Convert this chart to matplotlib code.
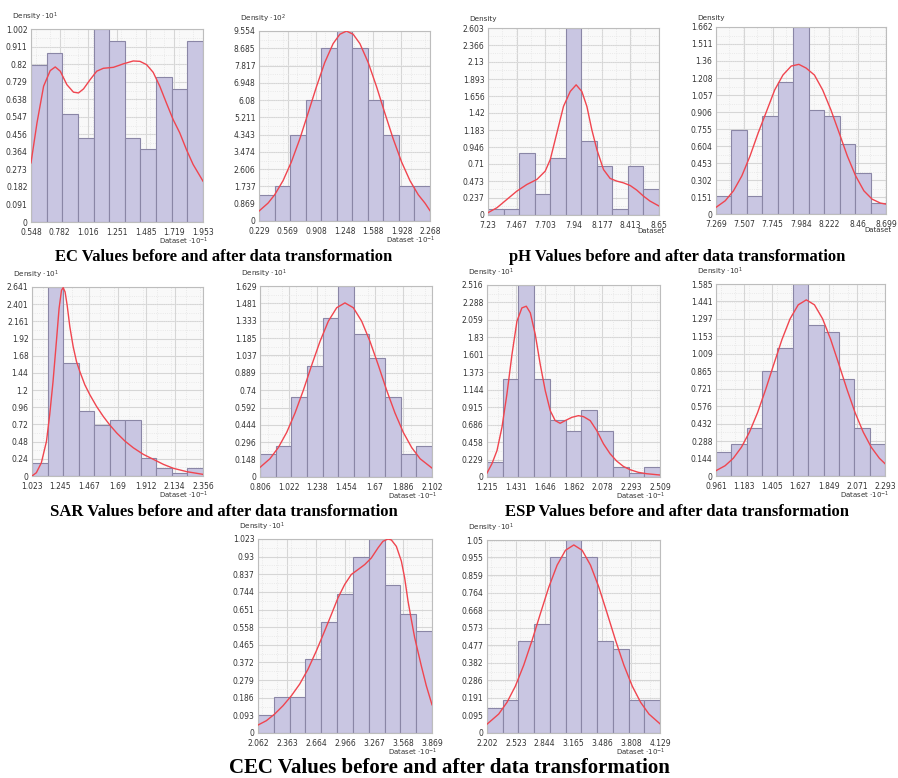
import numpy as np
import matplotlib
matplotlib.use("Agg")
import matplotlib.pyplot as plt
from matplotlib.ticker import MultipleLocator

# ---- data (11 bins per histogram) ----

# EC before
ec_before_xticks = ["0.548", "0.782", "1.016", "1.251", "1.485", "1.719", "1.953"]
ec_before_yticks = ["0", "0.091", "0.182", "0.273", "0.364", "0.456", "0.547", "0.638", "0.729", "0.82", "0.911", "1.002"]
ec_before_bars = [0.814, 0.878, 0.561, 0.437, 1.002, 0.940, 0.437, 0.377, 0.751, 0.689, 0.940]
ec_before_cx = [0.548, 0.597, 0.651, 0.705, 0.746, 0.787, 0.841, 0.895, 0.936, 0.977, 1.031, 1.085, 1.139,
                1.221, 1.302, 1.383, 1.438, 1.492, 1.546, 1.600, 1.654, 1.709, 1.763, 1.817, 1.872, 1.953]
ec_before_cy = [0.307, 0.515, 0.705, 0.786, 0.805, 0.783, 0.713, 0.674, 0.670, 0.691, 0.739, 0.783, 0.798,
                0.803, 0.821, 0.836, 0.834, 0.817, 0.777, 0.705, 0.618, 0.532, 0.463, 0.377, 0.299, 0.212]

# EC after
ec_after_xticks = ["0.229", "0.569", "0.908", "1.248", "1.588", "1.928", "2.268"]
ec_after_yticks = ["0", "0.869", "1.737", "2.606", "3.474", "4.343", "5.211", "6.08", "6.948", "7.817", "8.685", "9.554"]
ec_after_bars = [1.303, 1.737, 4.343, 6.08, 8.685, 9.554, 8.685, 6.08, 4.343, 1.737, 1.737]
ec_after_cx = [0.229, 0.337, 0.416, 0.516, 0.615, 0.715, 0.814, 0.914, 1.013, 1.113, 1.193, 1.272,
               1.352, 1.432, 1.531, 1.631, 1.730, 1.830, 1.929, 2.029, 2.128, 2.208, 2.268]
ec_after_cy = [0.50, 0.90, 1.32, 2.03, 2.97, 4.12, 5.42, 6.75, 7.97, 8.92, 9.39, 9.55,
               9.39, 8.92, 7.97, 6.75, 5.42, 4.12, 2.97, 2.03, 1.32, 0.90, 0.52]

# pH before
ph_before_xticks = ["7.23", "7.467", "7.703", "7.94", "8.177", "8.413", "8.65"]
ph_before_yticks = ["0", "0.237", "0.473", "0.71", "0.946", "1.183", "1.42", "1.656", "1.893", "2.13", "2.366", "2.603"]
ph_before_bars = [0.079, 0.079, 0.868, 0.29, 0.80, 2.603, 1.037, 0.68, 0.079, 0.68, 0.36]
ph_before_cx = [7.230, 7.305, 7.387, 7.470, 7.553, 7.636, 7.705, 7.747, 7.802, 7.857, 7.913, 7.962, 8.009,
                8.051, 8.092, 8.134, 8.189, 8.244, 8.299, 8.354, 8.410, 8.465, 8.520, 8.575, 8.650]
ph_before_cy = [0.032, 0.102, 0.217, 0.333, 0.425, 0.495, 0.610, 0.772, 1.142, 1.512, 1.720, 1.812, 1.720,
                1.512, 1.188, 0.911, 0.633, 0.509, 0.472, 0.448, 0.411, 0.347, 0.264, 0.194, 0.125]

# pH after
ph_after_xticks = ["7.269", "7.507", "7.745", "7.984", "8.222", "8.46", "8.699"]
ph_after_yticks = ["0", "0.151", "0.302", "0.453", "0.604", "0.755", "0.906", "1.057", "1.208", "1.36", "1.511", "1.662"]
ph_after_bars = [0.16, 0.75, 0.16, 0.869, 1.177, 1.662, 0.926, 0.869, 0.624, 0.366, 0.10]
ph_after_cx = [7.269, 7.347, 7.416, 7.486, 7.555, 7.624, 7.694, 7.763, 7.832, 7.902, 7.966,
               8.027, 8.097, 8.166, 8.235, 8.305, 8.374, 8.444, 8.513, 8.582, 8.652, 8.699]
ph_after_cy = [0.059, 0.118, 0.206, 0.338, 0.515, 0.721, 0.912, 1.103, 1.235, 1.315, 1.330,
               1.297, 1.235, 1.103, 0.927, 0.721, 0.515, 0.338, 0.206, 0.132, 0.097, 0.088]

# SAR before
sar_before_xticks = ["1.023", "1.245", "1.467", "1.69", "1.912", "2.134", "2.356"]
sar_before_yticks = ["0", "0.24", "0.48", "0.72", "0.96", "1.2", "1.44", "1.68", "1.92", "2.161", "2.401", "2.641"]
sar_before_bars = [0.18, 2.641, 1.585, 0.913, 0.718, 0.783, 0.783, 0.246, 0.116, 0.046, 0.116]
sar_before_cx = [1.023, 1.057, 1.096, 1.136, 1.161, 1.187, 1.213, 1.234, 1.253, 1.266, 1.281, 1.297, 1.318,
                 1.344, 1.370, 1.396, 1.435, 1.474, 1.526, 1.578, 1.631, 1.683, 1.748, 1.813, 1.892,
                 1.970, 2.048, 2.126, 2.231, 2.356]
sar_before_cy = [0.0, 0.046, 0.185, 0.486, 0.857, 1.320, 1.876, 2.340, 2.595, 2.632, 2.572, 2.386, 2.085,
                 1.807, 1.598, 1.459, 1.274, 1.135, 0.973, 0.834, 0.709, 0.602, 0.487, 0.394, 0.301,
                 0.232, 0.162, 0.107, 0.060, 0.023]

# SAR after
sar_after_xticks = ["0.806", "1.022", "1.238", "1.454", "1.67", "1.886", "2.102"]
sar_after_yticks = ["0", "0.148", "0.296", "0.444", "0.592", "0.74", "0.889", "1.037", "1.185", "1.333", "1.481", "1.629"]
sar_after_bars = [0.196, 0.267, 0.679, 0.950, 1.355, 1.629, 1.221, 1.017, 0.679, 0.196, 0.267]
sar_after_cx = [0.806, 0.881, 0.944, 1.007, 1.070, 1.133, 1.195, 1.258, 1.321, 1.384, 1.446,
                1.509, 1.572, 1.635, 1.698, 1.760, 1.823, 1.886, 1.949, 2.012, 2.102]
sar_after_cy = [0.082, 0.156, 0.251, 0.380, 0.546, 0.741, 0.952, 1.156, 1.329, 1.444, 1.485,
                1.444, 1.329, 1.156, 0.952, 0.741, 0.546, 0.380, 0.251, 0.156, 0.076]

# ESP before
esp_before_xticks = ["1.215", "1.431", "1.646", "1.862", "2.078", "2.293", "2.509"]
esp_before_yticks = ["0", "0.229", "0.458", "0.686", "0.915", "1.144", "1.373", "1.601", "1.83", "2.059", "2.288", "2.516"]
esp_before_bars = [0.196, 1.29, 2.516, 1.29, 0.752, 0.608, 0.884, 0.608, 0.130, 0.056, 0.130]
esp_before_cx = [1.215, 1.252, 1.290, 1.327, 1.364, 1.402, 1.439, 1.476, 1.509, 1.539, 1.576, 1.613, 1.651,
                 1.688, 1.725, 1.762, 1.800, 1.850, 1.899, 1.937, 1.987, 2.036, 2.086, 2.136, 2.185,
                 2.235, 2.285, 2.347, 2.409, 2.509]
esp_before_cy = [0.052, 0.174, 0.348, 0.652, 1.086, 1.608, 2.042, 2.216, 2.238, 2.151, 1.868, 1.477, 1.130,
                 0.869, 0.739, 0.704, 0.739, 0.782, 0.804, 0.791, 0.739, 0.608, 0.435, 0.304, 0.209,
                 0.139, 0.096, 0.061, 0.043, 0.026]

# ESP after
esp_after_xticks = ["0.961", "1.183", "1.405", "1.627", "1.849", "2.071", "2.293"]
esp_after_yticks = ["0", "0.144", "0.288", "0.432", "0.576", "0.721", "0.865", "1.009", "1.153", "1.297", "1.441", "1.585"]
esp_after_bars = [0.197, 0.263, 0.399, 0.868, 1.059, 1.585, 1.25, 1.189, 0.801, 0.399, 0.263]
esp_after_cx = [0.961, 1.033, 1.097, 1.161, 1.225, 1.289, 1.353, 1.417, 1.481, 1.545, 1.609, 1.673,
                1.737, 1.801, 1.865, 1.929, 1.993, 2.057, 2.121, 2.185, 2.249, 2.293]
esp_after_cy = [0.044, 0.085, 0.146, 0.237, 0.363, 0.524, 0.716, 0.924, 1.127, 1.298, 1.413, 1.454,
                1.413, 1.298, 1.127, 0.924, 0.716, 0.524, 0.363, 0.237, 0.146, 0.102]

# CEC before
cec_before_xticks = ["2.062", "2.363", "2.664", "2.966", "3.267", "3.568", "3.869"]
cec_before_yticks = ["0", "0.093", "0.186", "0.279", "0.372", "0.465", "0.558", "0.651", "0.744", "0.837", "0.93", "1.023"]
cec_before_bars = [0.093, 0.19, 0.19, 0.39, 0.586, 0.732, 0.926, 1.023, 0.780, 0.630, 0.537]
cec_before_cx = [2.062, 2.149, 2.235, 2.322, 2.408, 2.495, 2.581, 2.668, 2.754, 2.824, 2.893, 2.962, 3.031,
                 3.101, 3.170, 3.239, 3.308, 3.360, 3.412, 3.447, 3.499, 3.551, 3.585, 3.620, 3.654,
                 3.689, 3.758, 3.810, 3.869]
cec_before_cy = [0.042, 0.065, 0.100, 0.144, 0.196, 0.258, 0.336, 0.433, 0.538, 0.625, 0.713, 0.783, 0.836,
                 0.862, 0.888, 0.923, 0.976, 1.011, 1.023, 1.018, 0.984, 0.906, 0.818, 0.695, 0.599,
                 0.503, 0.354, 0.249, 0.149]

# CEC after
cec_after_xticks = ["2.202", "2.523", "2.844", "3.165", "3.486", "3.808", "4.129"]
cec_after_yticks = ["0", "0.095", "0.191", "0.286", "0.382", "0.477", "0.573", "0.668", "0.764", "0.859", "0.955", "1.05"]
cec_after_bars = [0.136, 0.180, 0.50, 0.593, 0.955, 1.05, 0.955, 0.50, 0.456, 0.180, 0.180]
cec_after_cx = [2.202, 2.332, 2.425, 2.518, 2.611, 2.704, 2.797, 2.890, 2.983, 3.076, 3.169,
                3.262, 3.355, 3.448, 3.541, 3.634, 3.727, 3.820, 3.913, 4.006, 4.129]
cec_after_cy = [0.048, 0.103, 0.167, 0.255, 0.369, 0.504, 0.650, 0.793, 0.913, 0.994, 1.023,
                0.994, 0.913, 0.793, 0.650, 0.504, 0.369, 0.255, 0.167, 0.103, 0.050]

captions = ["EC Values before and after data transformation",
            "pH Values before and after data transformation",
            "SAR Values before and after data transformation",
            "ESP Values before and after data transformation",
            "CEC Values before and after data transformation"]

W, H = 898, 778
BAR_FILL = "#c9c6e2"
BAR_EDGE = "#8a86a6"
CURVE = "#f0454f"


def px_rect(l, t, r, b):
    return [l / W, 1 - b / H, (r - l) / W, (b - t) / H]


def draw_panel(fig, box, xticks, yticks, bars, cx, cy, ylab, xlab):
    ax = fig.add_axes(px_rect(*box))
    xt = [float(v) for v in xticks]
    yt = [float(v) for v in yticks]
    xmin, xmax = xt[0], xt[-1]
    ymax = yt[-1]
    edges = np.linspace(xmin, xmax, len(bars) + 1)
    ax.set_facecolor("#f9f9f9")
    ax.bar(edges[:-1], bars, width=np.diff(edges), align="edge",
           color=BAR_FILL, edgecolor=BAR_EDGE, linewidth=0.8, zorder=2)
    ax.plot(cx, cy, color=CURVE, lw=1.0, zorder=3)
    ax.set_xlim(xmin, xmax)
    ax.set_ylim(0, ymax)
    ax.set_xticks(xt)
    ax.set_xticklabels(xticks)
    ax.set_yticks(yt)
    ax.set_yticklabels(yticks)
    ax.xaxis.set_minor_locator(MultipleLocator((xt[1] - xt[0]) / 2))
    ax.yaxis.set_minor_locator(MultipleLocator((yt[1] - yt[0]) / 2))
    ax.grid(True, which="major", color="#d6d6d6", lw=0.8, zorder=0)
    ax.grid(True, which="minor", color="#e4e4e4", lw=0.6, ls=":", zorder=0)
    ax.set_axisbelow(True)
    ax.tick_params(which="both", length=0, labelsize=5.5, labelcolor="#333333")
    ax.tick_params(axis="x", pad=4)
    ax.tick_params(axis="y", pad=2.5)
    for s in ax.spines.values():
        s.set_color("#bdbdbd")
        s.set_linewidth(0.8)
    ax.text(-0.11, 1.03, ylab, transform=ax.transAxes, fontsize=5.2,
            color="#333333", ha="left", va="bottom")
    ax.text(1.03, -0.07, xlab, transform=ax.transAxes, fontsize=5.0,
            color="#333333", ha="right", va="top")
    return ax


fig = plt.figure(figsize=(W / 100, H / 100), dpi=100)
fig.patch.set_facecolor("white")

d1 = r"Density $\cdot$10$^{1}$"
d2 = r"Density $\cdot$10$^{2}$"
dm = r"Dataset $\cdot$10$^{-1}$"

draw_panel(fig, (31, 29, 203, 222), ec_before_xticks, ec_before_yticks, ec_before_bars,
           ec_before_cx, ec_before_cy, d1, dm)
draw_panel(fig, (259, 31, 430, 221), ec_after_xticks, ec_after_yticks, ec_after_bars,
           ec_after_cx, ec_after_cy, d2, dm)
draw_panel(fig, (488, 28, 659, 215), ph_before_xticks, ph_before_yticks, ph_before_bars,
           ph_before_cx, ph_before_cy, "Density", "Dataset")
draw_panel(fig, (716, 27, 886, 214), ph_after_xticks, ph_after_yticks, ph_after_bars,
           ph_after_cx, ph_after_cy, "Density", "Dataset")
draw_panel(fig, (32, 287, 203, 476), sar_before_xticks, sar_before_yticks, sar_before_bars,
           sar_before_cx, sar_before_cy, d1, dm)
draw_panel(fig, (260, 286, 432, 477), sar_after_xticks, sar_after_yticks, sar_after_bars,
           sar_after_cx, sar_after_cy, d1, dm)
draw_panel(fig, (487, 285, 660, 477), esp_before_xticks, esp_before_yticks, esp_before_bars,
           esp_before_cx, esp_before_cy, d1, dm)
draw_panel(fig, (716, 284, 885, 476), esp_after_xticks, esp_after_yticks, esp_after_bars,
           esp_after_cx, esp_after_cy, d1, dm)
draw_panel(fig, (258, 539, 432, 733), cec_before_xticks, cec_before_yticks, cec_before_bars,
           cec_before_cx, cec_before_cy, d1, dm)
draw_panel(fig, (487, 540, 660, 733), cec_after_xticks, cec_after_yticks, cec_after_bars,
           cec_after_cx, cec_after_cy, d1, dm)

cap_pos = [(224, 257, 12), (677, 257, 12), (224, 512, 12), (677, 512, 12), (449, 768, 15)]
for text, (x, y, fs) in zip(captions, cap_pos):
    fig.text(x / W, 1 - y / H, text, ha="center", va="center", fontsize=fs,
             fontweight="bold", family="Liberation Serif", color="black")

fig.savefig("out.png", dpi=100)
